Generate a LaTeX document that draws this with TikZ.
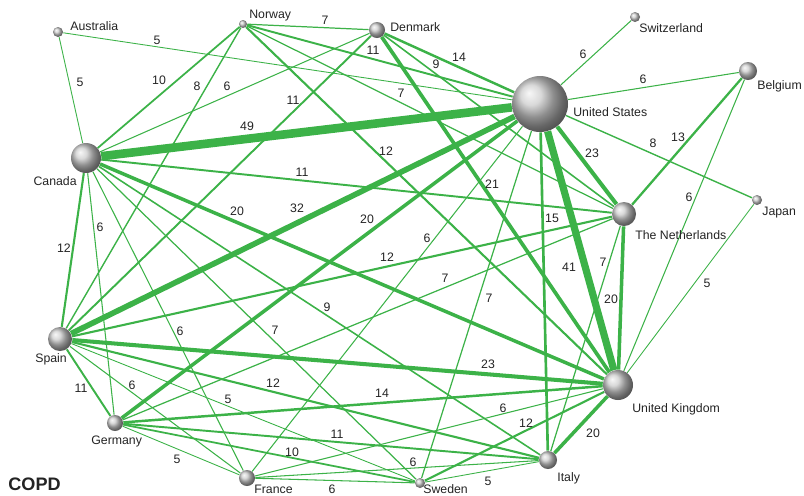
\documentclass[tikz,border=0pt]{standalone}
\usepackage{fontspec}
\setmainfont{Liberation Sans}
\usetikzlibrary{backgrounds}
\definecolor{linkgreen}{RGB}{60,178,72}
\definecolor{labelgray}{RGB}{35,35,35}
\tikzset{
  ball/.style={circle, inner sep=0pt, minimum size=#1*0.4mm, shading=ball, ball color=gray!40},
  cname/.style={inner sep=0pt, text=labelgray, font=\fontsize{7}{8}\selectfont, text height=5pt, text depth=0pt},
  num/.style={inner sep=0pt, text=labelgray, font=\fontsize{7}{8}\selectfont, text height=5pt, text depth=0pt},
  link/.style={draw=linkgreen, line width=#1*0.1pt}
}
\begin{document}
\begin{tikzpicture}[x=0.2mm, y=-0.2mm]
\useasboundingbox (0,0) rectangle (804,495);
% countries (radius in pixels)
\node[ball=28] (us) at (540,104) {};
\node[ball=15] (ca) at (86,158) {};
\node[ball=15] (uk) at (618,385) {};
\node[ball=12] (nl) at (624,214) {};
\node[ball=12] (es) at (60,339) {};
\node[ball=9]  (be) at (748,71) {};
\node[ball=9]  (it) at (548,460) {};
\node[ball=8]  (dk) at (377,30) {};
\node[ball=8]  (de) at (115,423) {};
\node[ball=8]  (fr) at (247,478) {};
\node[ball=5]  (au) at (58,32) {};
\node[ball=5]  (ch) at (635,17) {};
\node[ball=5]  (jp) at (757,200) {};
\node[ball=5]  (se) at (420,483) {};
\node[ball=4]  (no) at (243,24) {};
% names
\node[cname, anchor=west] (au-t) at (70,26) {Australia};
\node[cname, anchor=west] (no-t) at (249,14) {Norway};
\node[cname, anchor=west] (dk-t) at (390,27) {Denmark};
\node[cname, anchor=west] (ch-t) at (639,28) {Switzerland};
\node[cname, anchor=west] (be-t) at (757,85) {Belgium};
\node[cname, anchor=west] (us-t) at (573,112) {United States};
\node[cname, anchor=east] (ca-t) at (77,181) {Canada};
\node[cname, anchor=west] (nl-t) at (635,235) {The Netherlands};
\node[cname, anchor=west] (jp-t) at (762,211) {Japan};
\node[cname, anchor=west] (es-t) at (35,358) {Spain};
\node[cname, anchor=west] (uk-t) at (632,408) {United Kingdom};
\node[cname, anchor=west] (de-t) at (91,440) {Germany};
\node[cname, anchor=west] (it-t) at (557,477) {Italy};
\node[cname, anchor=west] (fr-t) at (254,489) {France};
\node[cname, anchor=west] (se-t) at (423,489) {Sweden};
\node[anchor=west, inner sep=0pt, text=labelgray, font=\fontsize{10.3}{12}\selectfont\bfseries] (title) at (8,484) {COPD};
% links, width from number of papers
\begin{scope}[on background layer]
\foreach \a/\b/\w in {au/ca/5, au/us/5, no/dk/7, no/ca/10, no/es/8, no/us/11, no/nl/7, no/uk/12,
  dk/ca/6, dk/es/11, dk/us/14, dk/nl/9, dk/uk/21, us/ch/6, us/be/6, us/ca/49, us/nl/23, us/jp/8,
  us/uk/41, us/es/32, us/de/20, us/fr/6, us/se/7, us/it/15, ca/nl/11, ca/uk/20, ca/it/9, ca/se/7,
  ca/fr/6, ca/de/6, ca/es/12, be/nl/13, be/uk/6, jp/uk/5, nl/uk/20, nl/it/7, nl/es/12, nl/de/7,
  es/uk/23, es/it/12, es/se/5, es/fr/6, es/de/11, de/uk/14, de/it/11, de/se/10, de/fr/5,
  fr/se/6, fr/it/6, fr/uk/6, se/uk/12, se/it/5, it/uk/20}
  \draw[link=\w] (\a) -- (\b);
\end{scope}
% link weights
\foreach \x/\y/\t [count=\i] in {157/40/5, 80/82/5, 325/20/7, 373/50/11, 436/64/9, 459/57/14,
  159/80/10, 197/86/8, 227/86/6, 401/93/7, 293/100/11, 247/126/49, 386/151/12, 302/172/11,
  237/211/20, 297/208/32, 367/219/20, 427/238/6, 387/257/12, 445/278/7, 327/307/9, 275/330/7,
  180/331/6, 100/227/6, 64/248/12, 81/388/11, 132/385/6, 273/383/12, 228/399/5, 382/393/14,
  177/459/5, 337/434/11, 292/452/10, 332/489/6, 413/462/6, 503/408/6, 526/423/12, 488/481/5,
  593/433/20, 488/364/23, 489/298/7, 492/184/21, 552/218/15, 569/267/41, 603/262/7, 611/299/20,
  689/197/6, 707/283/5, 678/137/13, 653/143/8, 592/153/23, 643/79/6, 583/54/6}
  \node[num] (n\i) at (\x,\y) {\t};
\end{tikzpicture}
\end{document}
